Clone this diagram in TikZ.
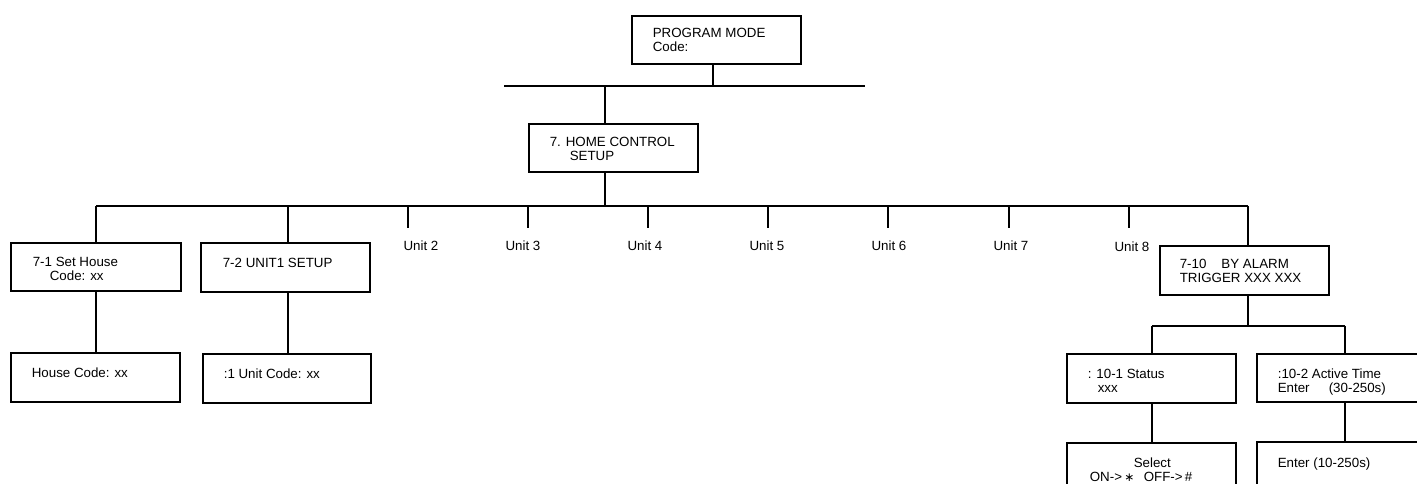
\documentclass[tikz,border=0pt]{standalone}
\usepackage{fontspec}
\setmainfont{Liberation Sans}
\newfontfamily\symfont{DejaVu Sans}
\begin{document}
\begin{tikzpicture}[x=0.75pt,y=-0.75pt,line width=1.2pt,
  box/.style={draw,line width=1.2pt,inner sep=0pt,anchor=north west,minimum width=#1},
  box/.default={169*0.75pt},
  txt/.style={inner sep=0pt,anchor=north west,align=left,font=\fontsize{10}{10.9}\selectfont}]
\useasboundingbox (0,0) rectangle (1417,484);
\clip (0,0) rectangle (1417,484);
% boxes
\node[box,minimum height=48*0.75pt] (pm) at (631,15) {};
\node[box,minimum height=48*0.75pt] (hc) at (528,123) {};
\node[box={170*0.75pt},minimum height=48*0.75pt] (b71) at (10,242) {};
\node[box={169*0.75pt},minimum height=49*0.75pt] (bhc) at (10,352) {};
\node[box,minimum height=49*0.75pt] (b72) at (200,242) {};
\node[box={168*0.75pt},minimum height=49*0.75pt] (buc) at (202,353) {};
\node[box,minimum height=49*0.75pt] (b710) at (1159,245) {};
\node[box,minimum height=49*0.75pt] (b101) at (1066,353) {};
\node[box,minimum height=49*0.75pt] (bsel) at (1066,442) {};
\node[box={170*0.75pt},minimum height=48*0.75pt] (b102) at (1256,353) {};
\node[box={170*0.75pt},minimum height=49*0.75pt] (bent) at (1256,441) {};
% texts
\node[txt] (tpm) at (652,27) {PROGRAM MODE\\Code:};
\node[txt] (thc) at (549,136) {7. HOME CONTROL\\\hspace*{15pt}SETUP};
\node[txt] (t71) at (32,256) {7-1 Set House\\\hspace*{12.75pt}Code: xx};
\node[txt] (thcx) at (31,367) {House Code: xx};
\node[txt] (t72) at (222,257) {7-2 UNIT1 SETUP};
\node[txt] (tuc) at (223,368) {:1 Unit Code: xx};
\node[txt] (t710) at (1179,258) {7-10\hspace{11.25pt}BY ALARM\\TRIGGER XXX XXX};
\node[txt] (t101) at (1087,368) {: 10-1 Status\\\hspace*{7.5pt}xxx};
\node[txt] (tsel) at (1089,457) {\hspace*{33pt}Select\\\makebox[40.5pt][l]{ON->\,{\symfont\fontsize{9}{9}\selectfont ∗}}OFF->\,\#};
\node[txt] (t102) at (1277,368) {:10-2 Active Time\\\makebox[38.25pt][l]{Enter}(30-250s)};
\node[txt] (tent) at (1277,457) {Enter (10-250s)};
% unit labels
\node[txt,anchor=north] (u2) at (421,240) {Unit 2};
\node[txt,anchor=north] (u3) at (523,240) {Unit 3};
\node[txt,anchor=north] (u4) at (645,240) {Unit 4};
\node[txt,anchor=north] (u5) at (767,240) {Unit 5};
\node[txt,anchor=north] (u6) at (889,240) {Unit 6};
\node[txt,anchor=north] (u7) at (1011,240) {Unit 7};
\node[txt,anchor=north] (u8) at (1132,241) {Unit 8};
% junction coordinates
\coordinate (j0) at (713,86);
\coordinate (b1l) at (504,86);
\coordinate (b1r) at (865,86);
\coordinate (j1) at (605,86);
\coordinate (j2) at (605,206);
\coordinate (b2l) at (96,206);
\coordinate (b2r) at (1248,206);
\coordinate (d72) at (288,206);
\coordinate (t2) at (408,206);
\coordinate (t3) at (528,206);
\coordinate (t4) at (648,206);
\coordinate (t5) at (768,206);
\coordinate (t6) at (888,206);
\coordinate (t7) at (1009,206);
\coordinate (t8) at (1129,206);
\coordinate (j3) at (1248,326);
\coordinate (b3l) at (1152,326);
\coordinate (b3r) at (1345,326);
% connectors
\draw (j0 |- pm.south) -- (j0);
\draw (b1l) -- (b1r);
\draw (j1) -- (j1 |- hc.north);
\draw (j1 |- hc.south) -- (j2);
\draw (b2l) -- (b2r);
\draw (b2l) -- (b2l |- b71.north);
\draw (b2l |- b71.south) -- (b2l |- bhc.north);
\draw (d72) -- (d72 |- b72.north);
\draw (d72 |- b72.south) -- (d72 |- buc.north);
\foreach \t in {t2,t3,t4,t5,t6,t7,t8} \draw (\t) -- ++(0,22);
\draw (b2r) -- (b2r |- b710.north);
\draw (b2r |- b710.south) -- (j3);
\draw (b3l) -- (b3r);
\draw (b3l) -- (b3l |- b101.north);
\draw (b3l |- b101.south) -- (b3l |- bsel.north);
\draw (b3r) -- (b3r |- b102.north);
\draw (b3r |- b102.south) -- (b3r |- bent.north);
\end{tikzpicture}
\end{document}
